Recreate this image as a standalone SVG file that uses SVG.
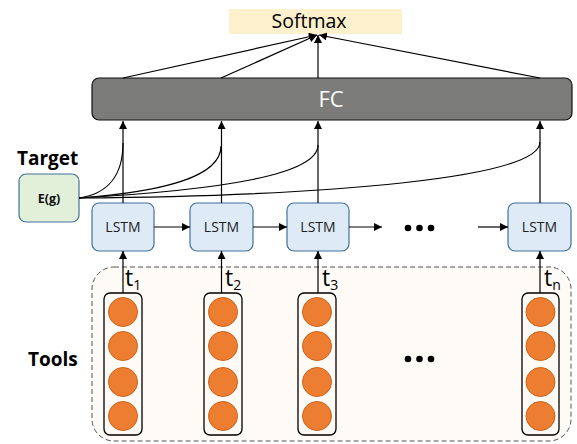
<svg xmlns="http://www.w3.org/2000/svg" width="577" height="444" viewBox="0 0 577 444">
<defs>
<marker id="ah" viewBox="0 0 10 10" refX="10" refY="5" markerWidth="8" markerHeight="8" markerUnits="userSpaceOnUse" orient="auto">
<path d="M0,0 L10,5 L0,10 z" fill="#000"/>
</marker>
<style>
.lstm{fill:#DEEBF7;stroke:#41719C;stroke-width:1.2}
.lt{font-family:"Open Sans",sans-serif;font-size:14px;fill:#222;text-anchor:middle}
.ln{stroke:#000;stroke-width:1.2;fill:none}
.col{fill:none;stroke:#000;stroke-width:1.3}
.c{fill:#ED7D31;stroke:#C8651E;stroke-width:1}
.t{font-family:"Open Sans",sans-serif;font-size:23px;fill:#000}
.s{font-size:14px}
.b{font-family:"Open Sans",sans-serif;font-size:19px;font-weight:bold;fill:#000}
</style>
</defs>
<rect width="577" height="444" fill="#fff"/>
<g id="tools-area">
<rect x="92" y="267" width="479" height="174" rx="22" fill="#FEFBF6" stroke="#555" stroke-width="1" stroke-dasharray="5,3"/>
</g>
<g id="softmax">
<rect x="229" y="9" width="173" height="25" fill="#FDF0CD"/>
<text x="309" y="28" font-family="'Open Sans',sans-serif" font-size="19.5" text-anchor="middle" fill="#000">Softmax</text>
</g>
<g id="fc">
<rect x="92" y="78" width="480" height="42" rx="7" fill="#7B7C7A" stroke="#111" stroke-width="1.2"/>
<text x="331" y="107" font-family="'Open Sans',sans-serif" font-size="22" text-anchor="middle" fill="#fff">FC</text>
</g>
<g id="target">
<text class="b" x="17" y="165">Target</text>
<rect x="19" y="174" width="60" height="48" rx="7" fill="#E2F0D9" stroke="#41719C" stroke-width="1.2"/>
<text x="49" y="203" font-family="'Open Sans',sans-serif" font-size="12.5" font-weight="bold" text-anchor="middle" fill="#111">E(g)</text>
</g>
<g id="lstm1"><rect class="lstm" x="92" y="203" width="62" height="48" rx="7"/><text class="lt" x="123" y="232">LSTM</text></g>
<g id="lstm2"><rect class="lstm" x="190" y="203" width="63" height="48" rx="7"/><text class="lt" x="221.5" y="232">LSTM</text></g>
<g id="lstm3"><rect class="lstm" x="287" y="203" width="62" height="48" rx="7"/><text class="lt" x="318" y="232">LSTM</text></g>
<g id="lstm4"><rect class="lstm" x="508" y="203" width="63" height="48" rx="7"/><text class="lt" x="539.5" y="232">LSTM</text></g>
<g id="dots-lstm" fill="#000"><circle cx="408" cy="228" r="3.3"/><circle cx="419.5" cy="228" r="3.3"/><circle cx="431" cy="228" r="3.3"/></g>
<g id="dots-tools" fill="#000"><circle cx="408" cy="359" r="3.3"/><circle cx="419.5" cy="359" r="3.3"/><circle cx="431" cy="359" r="3.3"/></g>
<g id="tools-label"><text class="b" x="28" y="366">Tools</text></g>
<g id="tool1">
<rect class="col" x="104" y="293" width="38" height="142" rx="6"/>
<circle class="c" cx="123" cy="312" r="14.5"/><circle class="c" cx="123" cy="346" r="14.5"/><circle class="c" cx="123" cy="382" r="14.5"/><circle class="c" cx="123" cy="416" r="14.5"/>
<text class="t" x="125" y="286">t<tspan class="s" dy="4">1</tspan></text>
</g>
<g id="tool2">
<rect class="col" x="204" y="293" width="38" height="142" rx="6"/>
<circle class="c" cx="223" cy="312" r="14.5"/><circle class="c" cx="223" cy="346" r="14.5"/><circle class="c" cx="223" cy="382" r="14.5"/><circle class="c" cx="223" cy="416" r="14.5"/>
<text class="t" x="225" y="286">t<tspan class="s" dy="4">2</tspan></text>
</g>
<g id="tool3">
<rect class="col" x="298" y="293" width="38" height="142" rx="6"/>
<circle class="c" cx="317" cy="312" r="14.5"/><circle class="c" cx="317" cy="346" r="14.5"/><circle class="c" cx="317" cy="382" r="14.5"/><circle class="c" cx="317" cy="416" r="14.5"/>
<text class="t" x="322" y="286">t<tspan class="s" dy="4">3</tspan></text>
</g>
<g id="tooln">
<rect class="col" x="522" y="293" width="37" height="142" rx="6"/>
<circle class="c" cx="540.5" cy="312" r="14.5"/><circle class="c" cx="540.5" cy="346" r="14.5"/><circle class="c" cx="540.5" cy="382" r="14.5"/><circle class="c" cx="540.5" cy="416" r="14.5"/>
<text class="t" x="544" y="286">t<tspan class="s" dy="4">n</tspan></text>
</g>
<g id="connectors">
<line class="ln" x1="123" y1="78" x2="317" y2="35" marker-end="url(#ah)"/>
<line class="ln" x1="221" y1="78" x2="317" y2="35" marker-end="url(#ah)"/>
<line class="ln" x1="318" y1="78" x2="318" y2="35" marker-end="url(#ah)"/>
<line class="ln" x1="540" y1="78" x2="319" y2="35" marker-end="url(#ah)"/>
<line class="ln" x1="123" y1="203" x2="123" y2="121" marker-end="url(#ah)"/>
<line class="ln" x1="221.5" y1="203" x2="221.5" y2="121" marker-end="url(#ah)"/>
<line class="ln" x1="318" y1="203" x2="318" y2="121" marker-end="url(#ah)"/>
<line class="ln" x1="540" y1="203" x2="540" y2="121" marker-end="url(#ah)"/>
<path class="ln" d="M79,198 C108,194 123,175 123,143"/>
<path class="ln" d="M79,198 C160,192 221,178 221,146"/>
<path class="ln" d="M79,198 C220,190 318,175 318,145"/>
<path class="ln" d="M79,198 C330,196 540,178 540,142"/>
<line class="ln" x1="154" y1="227" x2="190" y2="227" marker-end="url(#ah)"/>
<line class="ln" x1="253" y1="227" x2="287" y2="227" marker-end="url(#ah)"/>
<line class="ln" x1="349" y1="227" x2="382" y2="227" marker-end="url(#ah)"/>
<line class="ln" x1="478" y1="227" x2="508" y2="227" marker-end="url(#ah)"/>
<line class="ln" x1="123" y1="293" x2="123" y2="251" marker-end="url(#ah)"/>
<line class="ln" x1="221.5" y1="293" x2="221.5" y2="251" marker-end="url(#ah)"/>
<line class="ln" x1="318" y1="293" x2="318" y2="251" marker-end="url(#ah)"/>
<line class="ln" x1="540" y1="293" x2="540" y2="251" marker-end="url(#ah)"/>
</g>
</svg>
